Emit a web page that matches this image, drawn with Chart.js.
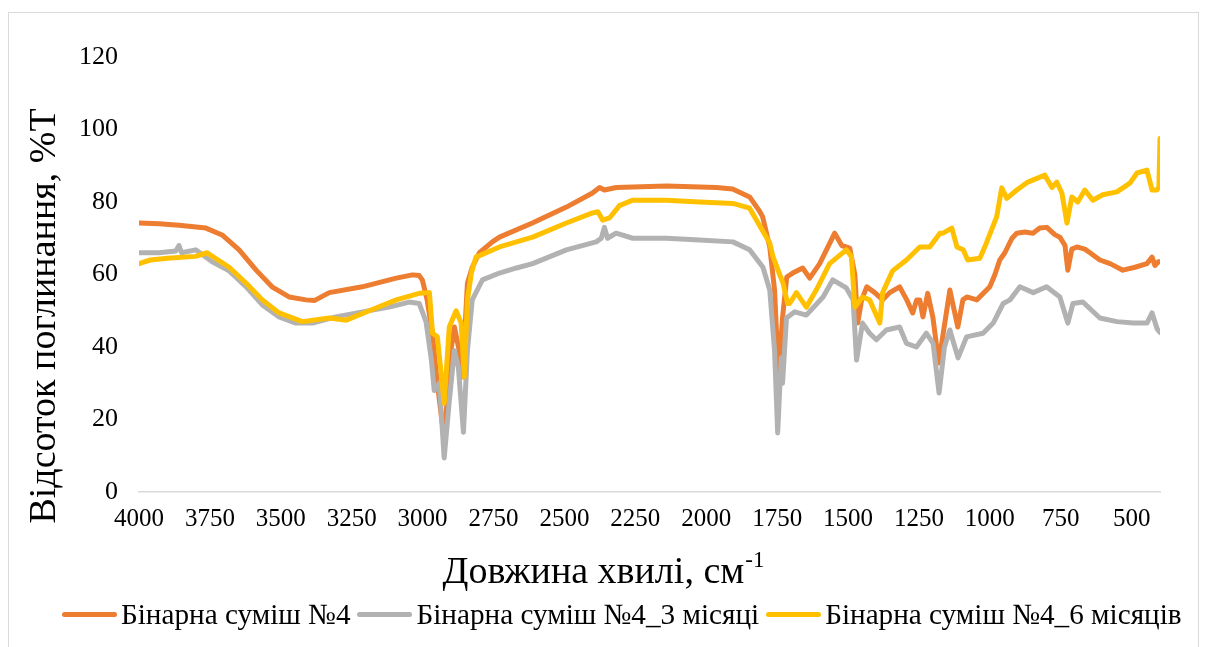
<!DOCTYPE html>
<html>
<head>
<meta charset="utf-8">
<script src="https://cdn.jsdelivr.net/npm/chart.js@4.4.1/dist/chart.umd.min.js"></script>
<style>
  body { margin: 0; background: #fff; }
  #wrap { position: relative; width: 1206px; height: 647px; overflow: hidden; background: #fff; }
  #frame { position: absolute; left: 8px; top: 12px; width: 1191px; height: 660px; border: 1px solid #d9d9d9; box-sizing: border-box; }
  #chart { position: absolute; left: 0; top: 0; }
  #legend { position: absolute; left: 62px; top: 598px; display: flex; align-items: center; font: 29.2px "Liberation Serif", "Times New Roman", serif; color: #000; white-space: nowrap; line-height: 32px; }
  #legend .item { display: flex; align-items: center; margin-right: 7px; }
  #legend .swatch { width: 55px; height: 5px; border-radius: 3px; margin-right: 4px; }
</style>
</head>
<body>
<div id="wrap">
  <div id="frame"></div>
  <canvas id="chart" width="1206" height="647"></canvas>
  <div id="legend"></div>
</div>
<script>
const seriesLabels = ['Бінарна суміш №4', 'Бінарна суміш №4_3 місяці', 'Бінарна суміш №4_6 місяців'];
const seriesColors = ['#ED7D31', '#B2B2B2', '#FFC000'];
const xTickLabels = [4000, 3750, 3500, 3250, 3000, 2750, 2500, 2250, 2000, 1750, 1500, 1250, 1000, 750, 500];
const yTickLabels = [0, 20, 40, 60, 80, 100, 120];
const xTitle = 'Довжина хвилі, см';
const xTitleSup = '-1';
const yTitle = 'Відсоток поглинання, %T';

// Бінарна суміш №4
const wnMix4 = [4000, 3929, 3859, 3764, 3707, 3647, 3587, 3531, 3471, 3411, 3382, 3329, 3213, 3093, 3036, 3012, 3001, 2984, 2966, 2948, 2931, 2920, 2906, 2888, 2871, 2860, 2842, 2825, 2800, 2754, 2729, 2613, 2493, 2401, 2376, 2359, 2317, 2140, 1964, 1907, 1847, 1812, 1801, 1776, 1759, 1745, 1731, 1716, 1695, 1660, 1635, 1600, 1547, 1522, 1494, 1476, 1466, 1452, 1434, 1406, 1378, 1353, 1318, 1293, 1272, 1258, 1247, 1236, 1219, 1201, 1180, 1162, 1141, 1113, 1095, 1081, 1046, 1000, 982, 965, 947, 922, 905, 877, 848, 824, 799, 771, 753, 735, 725, 711, 693, 665, 647, 612, 576, 531, 488, 446, 428, 418, 406, 400];
const tMix4 = [74.2, 74.0, 73.6, 72.8, 70.9, 66.8, 61.2, 56.6, 53.8, 53.0, 52.8, 55.0, 56.6, 59.0, 59.9, 59.7, 58.5, 53, 44, 30, 19, 17, 36, 45.5, 39, 31.7, 57.6, 62, 66, 69, 70.3, 74.2, 78.6, 82.5, 84, 83.3, 84, 84.4, 84, 83.6, 81.4, 77.5, 75.9, 67.6, 55.7, 31.7, 48, 59.3, 60.4, 61.8, 59, 63, 71.4, 68, 67.3, 60, 46.6, 53, 56.6, 55, 53, 55, 56.6, 53, 49.4, 53, 53, 48.3, 54.8, 48.3, 35.6, 45, 55.7, 45.5, 53, 53.8, 53, 56.6, 60, 64, 66, 70, 71.4, 71.7, 71.4, 72.8, 73, 71, 70.3, 68, 61.2, 67, 67.6, 67, 66, 64, 63, 61.2, 62, 63, 64.8, 62.5, 63.5, 63.5];

// Бінарна суміш №4_3 місяці
const wnMix4m3 = [4000, 3929, 3870, 3859, 3850, 3800, 3742, 3682, 3622, 3565, 3506, 3447, 3388, 3306, 3212, 3118, 3047, 3012, 2988, 2969, 2959, 2941, 2924, 2906, 2888, 2874, 2856, 2842, 2825, 2789, 2729, 2669, 2612, 2493, 2388, 2370, 2359, 2348, 2318, 2259, 2141, 2024, 1906, 1847, 1800, 1776, 1759, 1748, 1740, 1735, 1731, 1717, 1688, 1647, 1588, 1554, 1506, 1482, 1470, 1449, 1424, 1400, 1365, 1318, 1294, 1259, 1224, 1200, 1179, 1160, 1141, 1112, 1082, 1024, 988, 953, 929, 894, 847, 800, 753, 725, 707, 672, 612, 552, 494, 446, 428, 410, 400];
const tMix4m3 = [66, 66, 66.5, 68, 66, 66.8, 63.5, 61, 56.6, 51.6, 48.3, 46.6, 46.6, 48.3, 49.7, 51, 52.4, 52, 47, 36.4, 28, 30, 9.4, 25, 39, 34.5, 16.5, 39, 53, 58.5, 60.4, 61.8, 63, 66.8, 69, 70, 73, 70, 71.4, 70, 70, 69.5, 69, 66.8, 62, 55.7, 39, 16.3, 30, 37, 30, 48, 49.7, 48.8, 53.8, 58.5, 56.3, 53, 36.4, 46.6, 43.8, 42, 44.7, 45.5, 41, 40, 43.8, 41, 27.3, 40, 44.7, 37, 42.8, 43.8, 46.6, 52, 53, 56.6, 55, 56.6, 53.8, 46.6, 52, 52.4, 48, 47, 46.6, 46.6, 49.4, 45, 44];

// Бінарна суміш №4_6 місяців
const wnMix4m6 = [4000, 3960, 3900, 3800, 3760, 3682, 3622, 3565, 3506, 3424, 3329, 3269, 3188, 3093, 3012, 2976, 2965, 2948, 2924, 2906, 2882, 2864, 2853, 2842, 2828, 2812, 2729, 2612, 2493, 2401, 2382, 2365, 2341, 2306, 2259, 2141, 2024, 1906, 1847, 1812, 1776, 1765, 1741, 1729, 1713, 1706, 1682, 1647, 1612, 1565, 1506, 1488, 1476, 1449, 1424, 1388, 1378, 1343, 1294, 1247, 1212, 1176, 1165, 1134, 1116, 1094, 1078, 1035, 1012, 976, 958, 940, 905, 866, 806, 781, 764, 746, 728, 711, 690, 665, 637, 602, 552, 506, 481, 446, 428, 411, 404, 400];
const tMix4m6 = [63, 64, 64.5, 65, 66, 62, 57.6, 53, 49.4, 47, 48, 47.4, 50, 53, 54.8, 55, 43.8, 42.8, 24.5, 45.5, 50, 46.6, 31.7, 53, 60.4, 64.8, 67.6, 70.3, 74.2, 77, 77.3, 75, 75.6, 79, 80.5, 80.5, 80, 79.6, 78.3, 73.5, 68.7, 65, 60, 57.6, 52, 52, 55, 51, 55.7, 63, 66.8, 65, 51, 53.8, 53, 46.6, 55, 61, 64, 67.6, 67.6, 71.4, 71.4, 72.8, 67.6, 66.8, 64, 64.5, 68.7, 75.9, 83.9, 81, 83.3, 85.5, 87.4, 84, 85.5, 82.5, 74.2, 81.4, 80, 83.3, 80.5, 82, 82.8, 85.2, 88, 88.8, 83.3, 83.3, 84, 97.5];

const toPoints = (wn, t) => wn.map((w, i) => ({ x: w, y: t[i] }));
const seriesData = [toPoints(wnMix4, tMix4), toPoints(wnMix4m3, tMix4m3), toPoints(wnMix4m6, tMix4m6)];

const serif = '"Liberation Serif", "Times New Roman", serif';

// Axis titles drawn by hand (the x title needs a superscript)
const axisTitles = {
  id: 'axisTitles',
  afterDraw(chart) {
    const ctx = chart.ctx;
    ctx.save();
    ctx.fillStyle = '#000';
    ctx.textBaseline = 'alphabetic';
    ctx.font = `38px ${serif}`;
    ctx.textAlign = 'center';
    ctx.translate(55, 316);
    ctx.rotate(-Math.PI / 2);
    ctx.fillText(yTitle, 0, 0);
    ctx.restore();

    ctx.save();
    ctx.fillStyle = '#000';
    ctx.textBaseline = 'alphabetic';
    ctx.textAlign = 'left';
    ctx.font = `38px ${serif}`;
    const w1 = ctx.measureText(xTitle).width;
    ctx.font = `23px ${serif}`;
    const w2 = ctx.measureText(xTitleSup).width;
    const start = 603 - (w1 + w2) / 2;
    ctx.font = `38px ${serif}`;
    ctx.fillText(xTitle, start, 583);
    ctx.font = `23px ${serif}`;
    ctx.fillText(xTitleSup, start + w1 + 1, 567);
    ctx.restore();
  }
};

new Chart(document.getElementById('chart').getContext('2d'), {
  type: 'line',
  data: {
    datasets: seriesLabels.map((label, i) => ({
      label,
      data: seriesData[i],
      borderColor: seriesColors[i],
      backgroundColor: seriesColors[i],
      borderWidth: 5,
      pointRadius: 0,
      tension: 0,
      fill: false,
      borderJoinStyle: 'round',
      borderCapStyle: 'round',
      order: seriesLabels.length - i
    }))
  },
  options: {
    responsive: false,
    animation: false,
    layout: { padding: { left: 0, top: 57, right: 46, bottom: 0 } },
    plugins: { legend: { display: false }, tooltip: { enabled: false } },
    scales: {
      x: {
        type: 'linear',
        reverse: true,
        min: 400,
        max: 4000,
        afterBuildTicks: s => { s.ticks = xTickLabels.map(v => ({ value: v })); },
        afterFit: s => { s.height = 155; },
        grid: { display: false, drawTicks: false },
        border: { display: true, color: '#d9d9d9', width: 1.5 },
        ticks: { color: '#000', font: { family: serif, size: 25 }, padding: 12, maxRotation: 0, autoSkip: false, callback: v => String(v) }
      },
      y: {
        min: 0,
        max: 120,
        afterBuildTicks: s => { s.ticks = yTickLabels.map(v => ({ value: v })); },
        afterFit: s => { s.width = 139; },
        grid: { display: false, drawTicks: false },
        border: { display: false },
        ticks: { color: '#000', font: { family: serif, size: 26 }, padding: 21, callback: v => String(v) }
      }
    }
  },
  plugins: [axisTitles]
});

document.getElementById('legend').innerHTML = seriesLabels.map((label, i) =>
  `<div class="item"><div class="swatch" style="background:${seriesColors[i]}"></div><span>${label}</span></div>`
).join('');
</script>
</body>
</html>
